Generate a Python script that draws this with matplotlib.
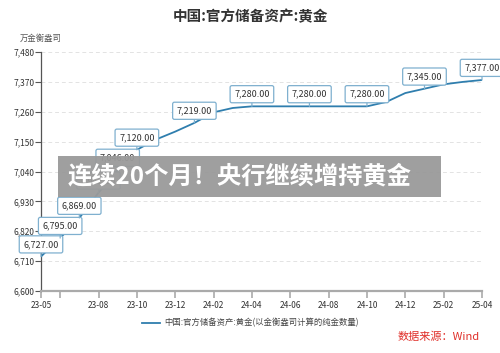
import matplotlib.pyplot as plt
from matplotlib.patches import Rectangle

plt.rcParams['font.family'] = ['Noto Sans CJK SC', 'DejaVu Sans']

# 中国官方黄金储备，月度（万金衡盎司），2023-05 至 2025-04
months = ['23-05', '23-06', '23-07', '23-08', '23-09', '23-10', '23-11', '23-12',
          '24-01', '24-02', '24-03', '24-04', '24-05', '24-06', '24-07', '24-08',
          '24-09', '24-10', '24-11', '24-12', '25-01', '25-02', '25-03', '25-04']
gold = [6727, 6795, 6869, 6962, 7046, 7120, 7158, 7187,
        7219, 7258, 7274, 7280, 7280, 7280, 7280, 7280,
        7280, 7280, 7296, 7329, 7345, 7361, 7370, 7377]
labelled = ['23-05', '23-06', '23-07', '23-08', '23-09', '23-10',
            '24-01', '24-04', '24-07', '24-10', '25-01', '25-04']
tick_months = ['23-05', '23-06', '23-08', '23-10', '23-12', '24-02', '24-04',
               '24-06', '24-08', '24-10', '24-12', '25-02', '25-04']
hidden_tick_labels = ['23-06']
yticks = [6600, 6710, 6820, 6930, 7040, 7150, 7260, 7370, 7480]

line_color = '#2f7eae'
box_edge = '#7fb0cf'

fig = plt.figure(figsize=(5, 3.53), dpi=100)
ax = fig.add_axes([0.082, 0.1756, 0.882, 0.677])

x = list(range(len(months)))
ax.plot(x, gold, color=line_color, lw=1.3,
        label='中国:官方储备资产:黄金(以金衡盎司计算的纯金数量)', zorder=3)

for m in labelled:
    i = months.index(m)
    ax.annotate(f'{gold[i]:,.2f}', xy=(i, gold[i]), xytext=(0, 5.5),
                textcoords='offset points', ha='center', va='bottom',
                fontsize=6.5, color='#333333',
                bbox=dict(boxstyle='round,pad=0.45,rounding_size=0.2',
                          fc='white', ec=box_edge, lw=0.9),
                arrowprops=dict(arrowstyle='-', color=box_edge, lw=0.9,
                                shrinkA=0, shrinkB=0),
                zorder=4)

ax.set_xlim(0, len(months) - 1)
ax.set_ylim(yticks[0], yticks[-1])
ax.set_yticks(yticks)
ax.set_yticklabels([f'{v:,}' for v in yticks])
ax.set_xticks([months.index(m) for m in tick_months])
ax.set_xticklabels(['' if m in hidden_tick_labels else m for m in tick_months])

ax.grid(axis='y', ls=(0, (4, 3)), color='#e3e3e3', lw=0.7)
ax.set_axisbelow(True)
for s in ['top', 'right']:
    ax.spines[s].set_visible(False)
ax.spines['left'].set_color('#555555')
ax.spines['left'].set_linewidth(0.9)
ax.spines['bottom'].set_color('#aaaaaa')
ax.spines['bottom'].set_linewidth(1.6)
ax.tick_params(axis='y', length=4, width=0.8, color='#555555', labelsize=6,
               labelcolor='#333333', pad=1)
ax.tick_params(axis='x', length=5, width=1.2, color='#aaaaaa', labelsize=6,
               labelcolor='#333333', pad=2)

fig.text(0.5, 0.955, '中国:官方储备资产:黄金', ha='center', va='center',
         fontsize=10.5, fontweight='bold', color='#333333')
fig.text(0.04, 0.89, '万金衡盎司', ha='left', va='center', fontsize=6,
         color='#555555')

leg = fig.legend(loc='center', bbox_to_anchor=(0.5, 0.085), frameon=False,
                 fontsize=6, handlelength=2.2, handletextpad=0.5)
for t in leg.get_texts():
    t.set_color('#444444')

fig.text(0.96, 0.045, '数据来源：Wind', ha='right', va='center', fontsize=8,
         color='#e0302a')

fig.patches.append(Rectangle((0.116, 0.442), 0.766, 0.116,
                             transform=fig.transFigure, fc='#9a9a9a',
                             alpha=0.95, ec='none', zorder=10))
fig.text(0.136, 0.499, '连续20个月！央行继续增持黄金', ha='left', va='center',
         fontsize=17.5, fontweight='bold', color='white', zorder=11)

fig.savefig('out.png', dpi=100)
